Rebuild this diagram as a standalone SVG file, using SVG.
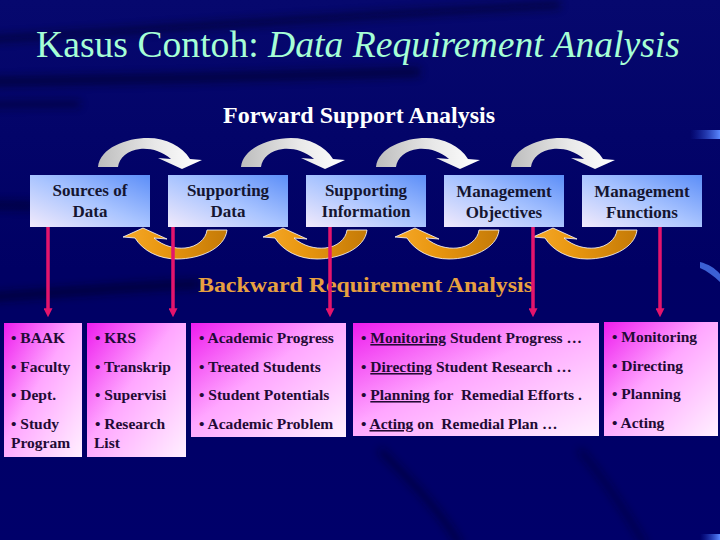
<svg xmlns="http://www.w3.org/2000/svg" width="720" height="540" viewBox="0 0 720 540">
<defs>
  <linearGradient id="bg" x1="0" y1="0" x2="0" y2="1">
    <stop offset="0" stop-color="#06086e"/>
    <stop offset="0.5" stop-color="#000064"/>
    <stop offset="1" stop-color="#00006a"/>
  </linearGradient>
  <linearGradient id="topBox" x1="0" y1="1" x2="1" y2="0">
    <stop offset="0" stop-color="#f2eafb"/>
    <stop offset="0.5" stop-color="#a9c4ff"/>
    <stop offset="1" stop-color="#5c8ef8"/>
  </linearGradient>
  <linearGradient id="botBox" x1="0" y1="0" x2="1" y2="1">
    <stop offset="0" stop-color="#ee1cee"/>
    <stop offset="0.45" stop-color="#ffa6ff"/>
    <stop offset="1" stop-color="#fff0ff"/>
  </linearGradient>
  <linearGradient id="grayArr" x1="0" y1="0" x2="1" y2="0">
    <stop offset="0" stop-color="#bdbdbd"/>
    <stop offset="0.55" stop-color="#e8e8e8"/>
    <stop offset="1" stop-color="#ffffff"/>
  </linearGradient>
  <linearGradient id="orArr" x1="0" y1="0" x2="1" y2="0">
    <stop offset="0" stop-color="#c47a08"/>
    <stop offset="0.6" stop-color="#e8960f"/>
    <stop offset="1" stop-color="#f6a82a"/>
  </linearGradient>
  <linearGradient id="blueHi" x1="0" y1="0" x2="1" y2="0">
    <stop offset="0" stop-color="#2040d0" stop-opacity="0"/>
    <stop offset="1" stop-color="#5a88ff"/>
  </linearGradient>
  <filter id="blur" x="-20%" y="-50%" width="140%" height="200%">
    <feGaussianBlur stdDeviation="4"/>
  </filter>
  <path id="arc" d="M0,29 C2,10 28,0 50,0 C68,0 84,8 92,21 L104,22 L84,31 L60,20 L73,21 C64,13 52,10 42,11 C30,12 21,20 20,29 Z"/>
  <marker id="pinkHead" viewBox="0 0 10 10" refX="2" refY="5" markerWidth="9" markerHeight="9" markerUnits="userSpaceOnUse" orient="auto">
    <path d="M0,0 L10,5 L0,10 Z" fill="#e4146c"/>
  </marker>
</defs>
<style>
  text { font-family: "Liberation Serif", "Times New Roman", "DejaVu Serif", serif; }
  .title { font-size: 38px; fill: #a6ffd6; }
  .fwd { font-size: 23px; font-weight: bold; fill: #ffffff; }
  .bwd { font-size: 22px; font-weight: bold; fill: #e8a040; }
  .tb { fill: url(#topBox); }
  .tt { font-size: 17px; font-weight: bold; fill: #151530; text-anchor: middle; }
  .bb { fill: url(#botBox); }
  .bt { font-size: 15.5px; font-weight: bold; fill: #220a34; white-space: pre; }
  .gray { fill: url(#grayArr); }
  .orange { fill: url(#orArr); stroke: #ffffff; stroke-width: 0.8; }
  .pink { stroke: #e4146c; stroke-width: 3.5; fill: none; marker-end: url(#pinkHead); }
  .u { text-decoration: underline; }
</style>

<!-- background -->
<rect x="0" y="0" width="720" height="540" fill="url(#bg)"/>
<g id="background-swooshes" fill="none" stroke="#00001e" opacity="0.6" filter="url(#blur)">
  <path d="M-20,40 C150,30 350,15 560,5" stroke-width="6"/>
  <path d="M-20,82 C120,80 280,76 420,72" stroke-width="8"/>
  <path d="M-20,105 C20,104 50,104 80,104" stroke-width="5"/>
  <path d="M-20,205 C5,205 20,205 35,206" stroke-width="7"/>
  <path d="M-20,298 C60,292 140,286 200,284" stroke-width="8"/>
  <path d="M380,450 C410,480 440,510 460,545" stroke-width="5"/>
  <path d="M580,450 C605,480 625,510 645,545" stroke-width="4"/>
</g>
<rect x="690" y="130" width="30" height="9" fill="url(#blueHi)"/>
<path d="M700,262 C708,264 715,268 720,274 L720,282 C714,276 707,271 700,268 Z" fill="#4a78f0" opacity="0.8"/>
<rect x="700" y="534" width="20" height="6" fill="url(#blueHi)"/>

<!-- titles -->
<text class="title" x="36" y="57" textLength="644" lengthAdjust="spacingAndGlyphs">Kasus Contoh: <tspan font-style="italic">Data Requirement Analysis</tspan></text>
<text id="forward-label" class="fwd" x="223" y="123" textLength="272" lengthAdjust="spacingAndGlyphs">Forward Support Analysis</text>
<text id="backward-label" class="bwd" x="198" y="292" textLength="335" lengthAdjust="spacingAndGlyphs">Backward Requirement Analysis</text>

<!-- top nodes -->
<g id="sources-of-data">
  <rect class="tb" x="30" y="175" width="120" height="52"/>
  <text class="tt" x="90" y="196">Sources of</text>
  <text class="tt" x="90" y="217">Data</text>
</g>
<g id="supporting-data">
  <rect class="tb" x="168" y="175" width="120" height="52"/>
  <text class="tt" x="228" y="196">Supporting</text>
  <text class="tt" x="228" y="217">Data</text>
</g>
<g id="supporting-information">
  <rect class="tb" x="306" y="175" width="120" height="52"/>
  <text class="tt" x="366" y="196">Supporting</text>
  <text class="tt" x="366" y="217">Information</text>
</g>
<g id="management-objectives">
  <rect class="tb" x="444" y="175" width="120" height="52"/>
  <text class="tt" x="504" y="197">Management</text>
  <text class="tt" x="504" y="218">Objectives</text>
</g>
<g id="management-functions">
  <rect class="tb" x="582" y="175" width="120" height="52"/>
  <text class="tt" x="642" y="197">Management</text>
  <text class="tt" x="642" y="218">Functions</text>
</g>

<!-- bottom nodes -->
<g id="list-sources">
  <rect class="bb" x="4" y="323" width="78" height="134"/>
  <text class="bt" x="11" y="343">• BAAK</text>
  <text class="bt" x="11" y="372">• Faculty</text>
  <text class="bt" x="11" y="400">• Dept.</text>
  <text class="bt" x="11" y="429">• Study</text>
  <text class="bt" x="11" y="448">Program</text>
</g>
<g id="list-supporting-data">
  <rect class="bb" x="87" y="323" width="99" height="134"/>
  <text class="bt" x="95" y="343">• KRS</text>
  <text class="bt" x="95" y="372">• Transkrip</text>
  <text class="bt" x="95" y="400">• Supervisi</text>
  <text class="bt" x="95" y="429">• Research</text>
  <text class="bt" x="94" y="448">List</text>
</g>
<g id="list-supporting-information">
  <rect class="bb" x="191" y="323" width="155" height="114"/>
  <text class="bt" x="199" y="343">• Academic Progress</text>
  <text class="bt" x="199" y="372">• Treated Students</text>
  <text class="bt" x="199" y="400">• Student Potentials</text>
  <text class="bt" x="199" y="429">• Academic Problem</text>
</g>
<g id="list-management-objectives">
  <rect class="bb" x="353" y="323" width="246" height="113"/>
  <text class="bt" x="361" y="343">• <tspan class="u">Monitoring</tspan> Student Progress …</text>
  <text class="bt" x="361" y="372">• <tspan class="u">Directing</tspan> Student Research …</text>
  <text class="bt" x="361" y="400">• <tspan class="u">Planning</tspan> for  Remedial Efforts .</text>
  <text class="bt" x="361" y="429">• <tspan class="u">Acting</tspan> on  Remedial Plan …</text>
</g>
<g id="list-management-functions">
  <rect class="bb" x="604" y="322" width="114" height="114"/>
  <text class="bt" x="612" y="342">• Monitoring</text>
  <text class="bt" x="612" y="371">• Directing</text>
  <text class="bt" x="612" y="399">• Planning</text>
  <text class="bt" x="612" y="428">• Acting</text>
</g>

<!-- connectors -->
<g id="connectors">
  <g id="forward-arrows">
    <use href="#arc" class="gray" transform="translate(98,138)"/>
    <use href="#arc" class="gray" transform="translate(241,138)"/>
    <use href="#arc" class="gray" transform="translate(376,138)"/>
    <use href="#arc" class="gray" transform="translate(511,138)"/>
  </g>
  <g id="backward-arrows">
    <use href="#arc" class="orange" transform="translate(227,259) rotate(180)"/>
    <use href="#arc" class="orange" transform="translate(367,259) rotate(180)"/>
    <use href="#arc" class="orange" transform="translate(499,259) rotate(180)"/>
    <use href="#arc" class="orange" transform="translate(637,259) rotate(180)"/>
  </g>
  <g id="requirement-arrows">
    <line class="pink" x1="48" y1="227" x2="48" y2="310"/>
    <line class="pink" x1="173" y1="227" x2="173" y2="310"/>
    <line class="pink" x1="330" y1="227" x2="330" y2="310"/>
    <line class="pink" x1="533" y1="227" x2="533" y2="310"/>
    <line class="pink" x1="660" y1="227" x2="660" y2="310"/>
  </g>
</g>
</svg>
